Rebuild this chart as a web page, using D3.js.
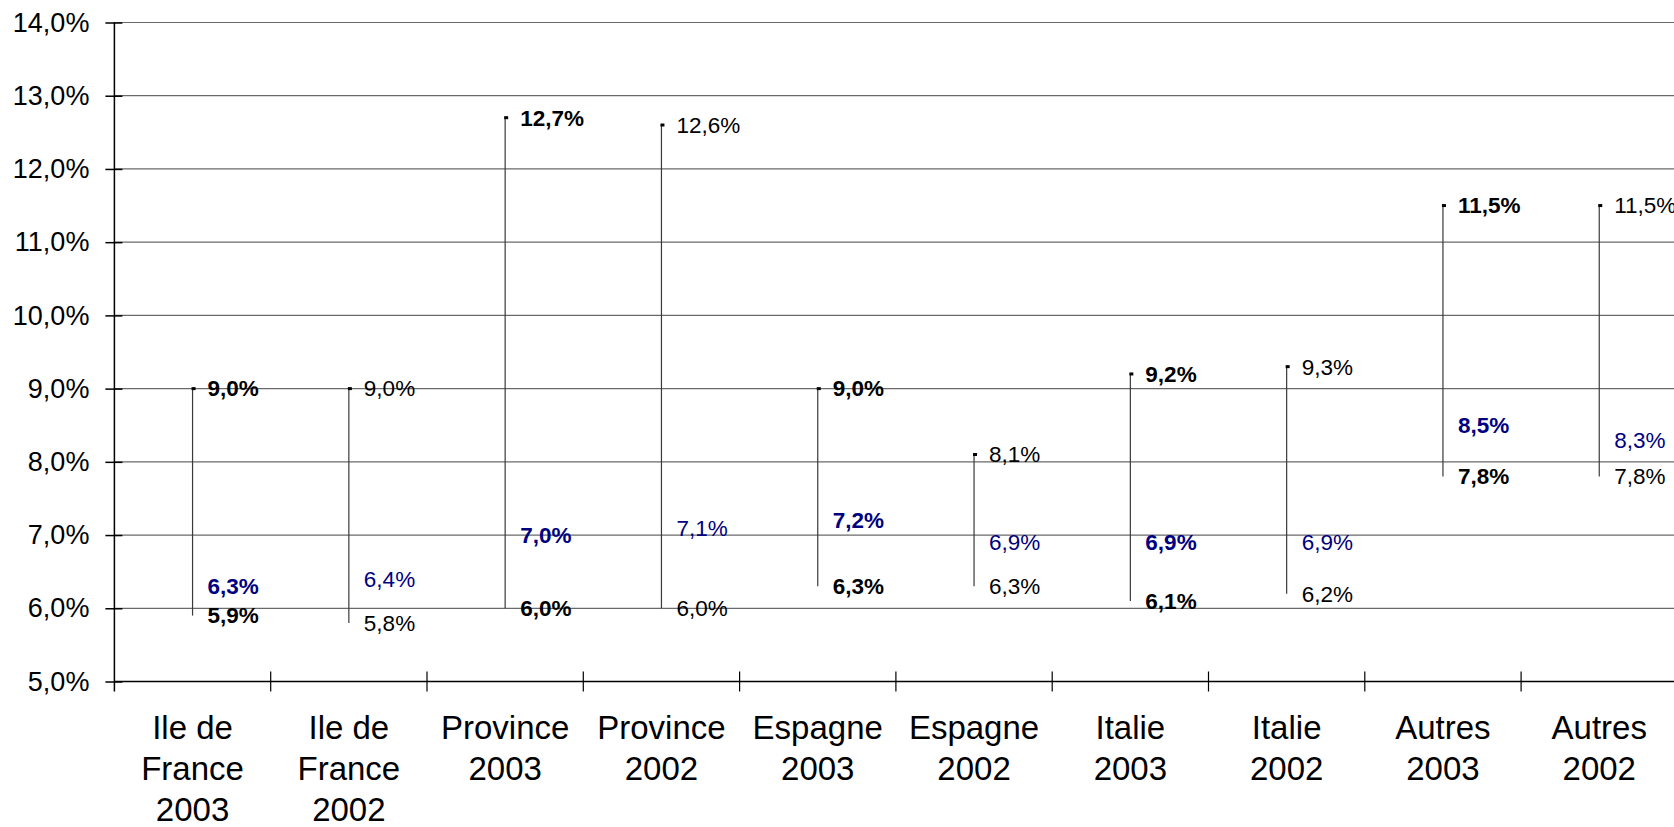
<!DOCTYPE html>
<html>
<head>
<meta charset="utf-8">
<script src="https://cdn.jsdelivr.net/npm/d3@7"></script>
<style>
body { margin: 0; background: #ffffff; }
svg { display: block; }
</style>
</head>
<body>
<script>
var categories = ["Ile de France 2003", "Ile de France 2002", "Province 2003", "Province 2002",
				  "Espagne 2003", "Espagne 2002", "Italie 2003", "Italie 2002", "Autres 2003", "Autres 2002"];
var categoryLines = [["Ile de", "France", "2003"], ["Ile de", "France", "2002"], ["Province", "2003"], ["Province", "2002"],
					 ["Espagne", "2003"], ["Espagne", "2002"], ["Italie", "2003"], ["Italie", "2002"], ["Autres", "2003"], ["Autres", "2002"]];
var years = [2003, 2002, 2003, 2002, 2003, 2002, 2003, 2002, 2003, 2002];
var highs = [9.0, 9.0, 12.7, 12.6, 9.0, 8.1, 9.2, 9.3, 11.5, 11.5];
var lows = [5.9, 5.8, 6.0, 6.0, 6.3, 6.3, 6.1, 6.2, 7.8, 7.8];
var mids = [6.3, 6.4, 7.0, 7.1, 7.2, 6.9, 6.9, 6.9, 8.5, 8.3];
var yTicks = [5, 6, 7, 8, 9, 10, 11, 12, 13, 14];

var w = 1674;
var h = 827;
var plotLeft = 114.4;
var plotRight = 1677.4;
var plotTop = 22.5;
var plotBottom = 681.5;
var font = "'Liberation Sans', Arial, sans-serif";

var data = categories.map(function(c, i){
	return {cat: c, lines: categoryLines[i], year: years[i], high: highs[i], low: lows[i], mid: mids[i]};
});

var fmt = function(v){ return v.toFixed(1).replace(".", ",") + "%"; };

var xScale = d3.scaleBand()
				.domain(categories)
				.range([plotLeft, plotRight])
				.padding(0);

var yScale = d3.scaleLinear()
				.domain([5, 14])
				.range([plotBottom, plotTop]);

var svg = d3.select("body")
			.append("svg")
			.attr("width", w)
			.attr("height", h);

var container = svg.append("g");

// gridlines
container.selectAll(".grid")
			.data(yTicks.slice(1))
			.enter()
			.append("line")
			.attr("x1", plotLeft)
			.attr("x2", plotRight)
			.attr("y1", function(d){ return yScale(d); })
			.attr("y2", function(d){ return yScale(d); })
			.attr("stroke", "#6a6a6a")
			.attr("stroke-width", 1.2);

// y axis
var yAxis = d3.axisLeft(yScale)
			.tickValues(yTicks)
			.tickSize(9)
			.tickPadding(16)
			.tickFormat(fmt);

var appendY = container.append("g")
			  .attr("transform", "translate(" + plotLeft + ",0)")
			  .call(yAxis);

appendY.select(".domain").remove();
appendY.selectAll(".tick line")
			.attr("x1", 8)
			.attr("stroke", "#000")
			.attr("stroke-width", 1.5);
appendY.selectAll(".tick text")
			.attr("font-family", font)
			.attr("font-size", "27px")
			.attr("fill", "#000");

// axis lines
container.append("line")
			.attr("x1", plotLeft).attr("x2", plotLeft)
			.attr("y1", plotTop).attr("y2", plotBottom + 10)
			.attr("stroke", "#000")
			.attr("stroke-width", 1.5);

container.append("line")
			.attr("x1", plotLeft).attr("x2", plotRight)
			.attr("y1", plotBottom).attr("y2", plotBottom)
			.attr("stroke", "#000")
			.attr("stroke-width", 1.5);

// x ticks between categories
container.selectAll(".xtick")
			.data(categories.slice(1))
			.enter()
			.append("line")
			.attr("x1", function(d){ return xScale(d); })
			.attr("x2", function(d){ return xScale(d); })
			.attr("y1", plotBottom - 10)
			.attr("y2", plotBottom + 10)
			.attr("stroke", "#000")
			.attr("stroke-width", 1.2);

// category labels
var catLabels = container.selectAll(".cat")
			.data(data)
			.enter()
			.append("text")
			.attr("font-family", font)
			.attr("font-size", "33px")
			.attr("fill", "#000")
			.attr("text-anchor", "middle");

catLabels.selectAll("tspan")
			.data(function(d){ return d.lines.map(function(l){ return {l: l, x: xScale(d.cat) + xScale.bandwidth() / 2}; }); })
			.enter()
			.append("tspan")
			.attr("x", function(d){ return d.x; })
			.attr("y", function(d, i){ return 739 + i * 41; })
			.text(function(d){ return d.l; });

// high-low lines
var points = container.selectAll(".pt")
			.data(data)
			.enter()
			.append("g")
			.attr("transform", function(d){ return "translate(" + (xScale(d.cat) + xScale.bandwidth() / 2) + ",0)"; });

points.append("line")
			.attr("x1", 0).attr("x2", 0)
			.attr("y1", function(d){ return yScale(d.high); })
			.attr("y2", function(d){ return yScale(d.low); })
			.attr("stroke", "#3a3a3a")
			.attr("stroke-width", 1.2);

points.append("rect")
			.attr("x", -1)
			.attr("y", function(d){ return yScale(d.high) - 1.5; })
			.attr("width", 4)
			.attr("height", 3)
			.attr("fill", "#000");

var addLabel = function(key, color){
	points.append("text")
			.attr("x", 15)
			.attr("y", function(d){ return yScale(d[key]); })
			.attr("dy", "0.35em")
			.attr("font-family", font)
			.attr("font-size", "22.5px")
			.attr("font-weight", function(d){ return d.year === 2003 ? "bold" : "normal"; })
			.attr("fill", color)
			.text(function(d){ return fmt(d[key]); });
};

addLabel("high", "#000");
addLabel("low", "#000");
addLabel("mid", "#000080");
</script>
</body>
</html>
